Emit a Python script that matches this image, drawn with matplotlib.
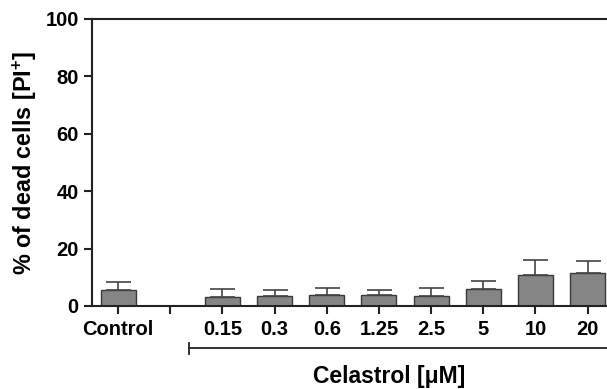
import matplotlib
matplotlib.use("Agg")
import matplotlib.pyplot as plt
import numpy as np

categories = ["Control", "", "0.15", "0.3", "0.6", "1.25", "2.5", "5", "10", "20"]
means = [5.5, None, 3.1, 3.4, 3.7, 3.7, 3.6, 5.9, 10.9, 11.5]
errors = [2.9, None, 2.9, 2.1, 2.5, 2.0, 2.8, 2.9, 5.2, 4.3]
yticks = [0, 20, 40, 60, 80, 100]

plt.rcParams['font.family'] = ['Liberation Sans', 'DejaVu Sans']
plt.rcParams['font.weight'] = 'bold'
plt.rcParams['mathtext.fontset'] = 'custom'
plt.rcParams['mathtext.rm'] = 'Liberation Sans:bold'
plt.rcParams['mathtext.bf'] = 'Liberation Sans:bold'

fig = plt.figure(figsize=(6.07, 3.89), dpi=100)
ax = fig.add_axes([0.1516, 0.2134, 0.868, 0.738])

x = np.arange(len(categories))
bx = [xi for xi, m in zip(x, means) if m is not None]
bm = [m for m in means if m is not None]
be = [e for e in errors if e is not None]

ax.bar(bx, bm, width=0.67, color='#858585', edgecolor='#3a3a3a', linewidth=1.0, zorder=2)
ax.errorbar(bx, bm, yerr=[np.zeros(len(be)), be], fmt='none', ecolor='#444444',
            elinewidth=1.2, capsize=9, capthick=1.2, zorder=3)

ax.set_xlim(-0.5, 9.6)
ax.set_ylim(0, 100)
ax.set_yticks(yticks)
ax.set_xticks(x)
ax.set_xticklabels(categories)
ax.tick_params(axis='both', direction='out', length=6, width=1.5, colors='#222222',
               labelsize=14.5, labelcolor='black')
ax.tick_params(axis='x', pad=4)
for lab in ax.get_xticklabels() + ax.get_yticklabels():
    lab.set_fontweight('bold')

for s in ['left', 'bottom', 'top']:
    ax.spines[s].set_linewidth(1.5)
    ax.spines[s].set_color('#222222')
ax.spines['right'].set_visible(False)

ax.set_ylabel(r'% of dead cells [PI$^{+}$]', fontsize=16.8, fontweight='bold', labelpad=5)

# bracket under celastrol concentrations
trans = matplotlib.transforms.blended_transform_factory(ax.transData, ax.transAxes)
ax.plot([1.35, 9.8], [-0.146, -0.146], transform=trans, color='#222222', lw=1.3, clip_on=False)
ax.plot([1.35, 1.35], [-0.128, -0.168], transform=trans, color='#222222', lw=1.3, clip_on=False)
ax.text(5.19, -0.247, 'Celastrol [μM]', transform=trans, ha='center', va='center',
        fontsize=16.5, fontweight='bold')

fig.savefig('out.png', dpi=100)
